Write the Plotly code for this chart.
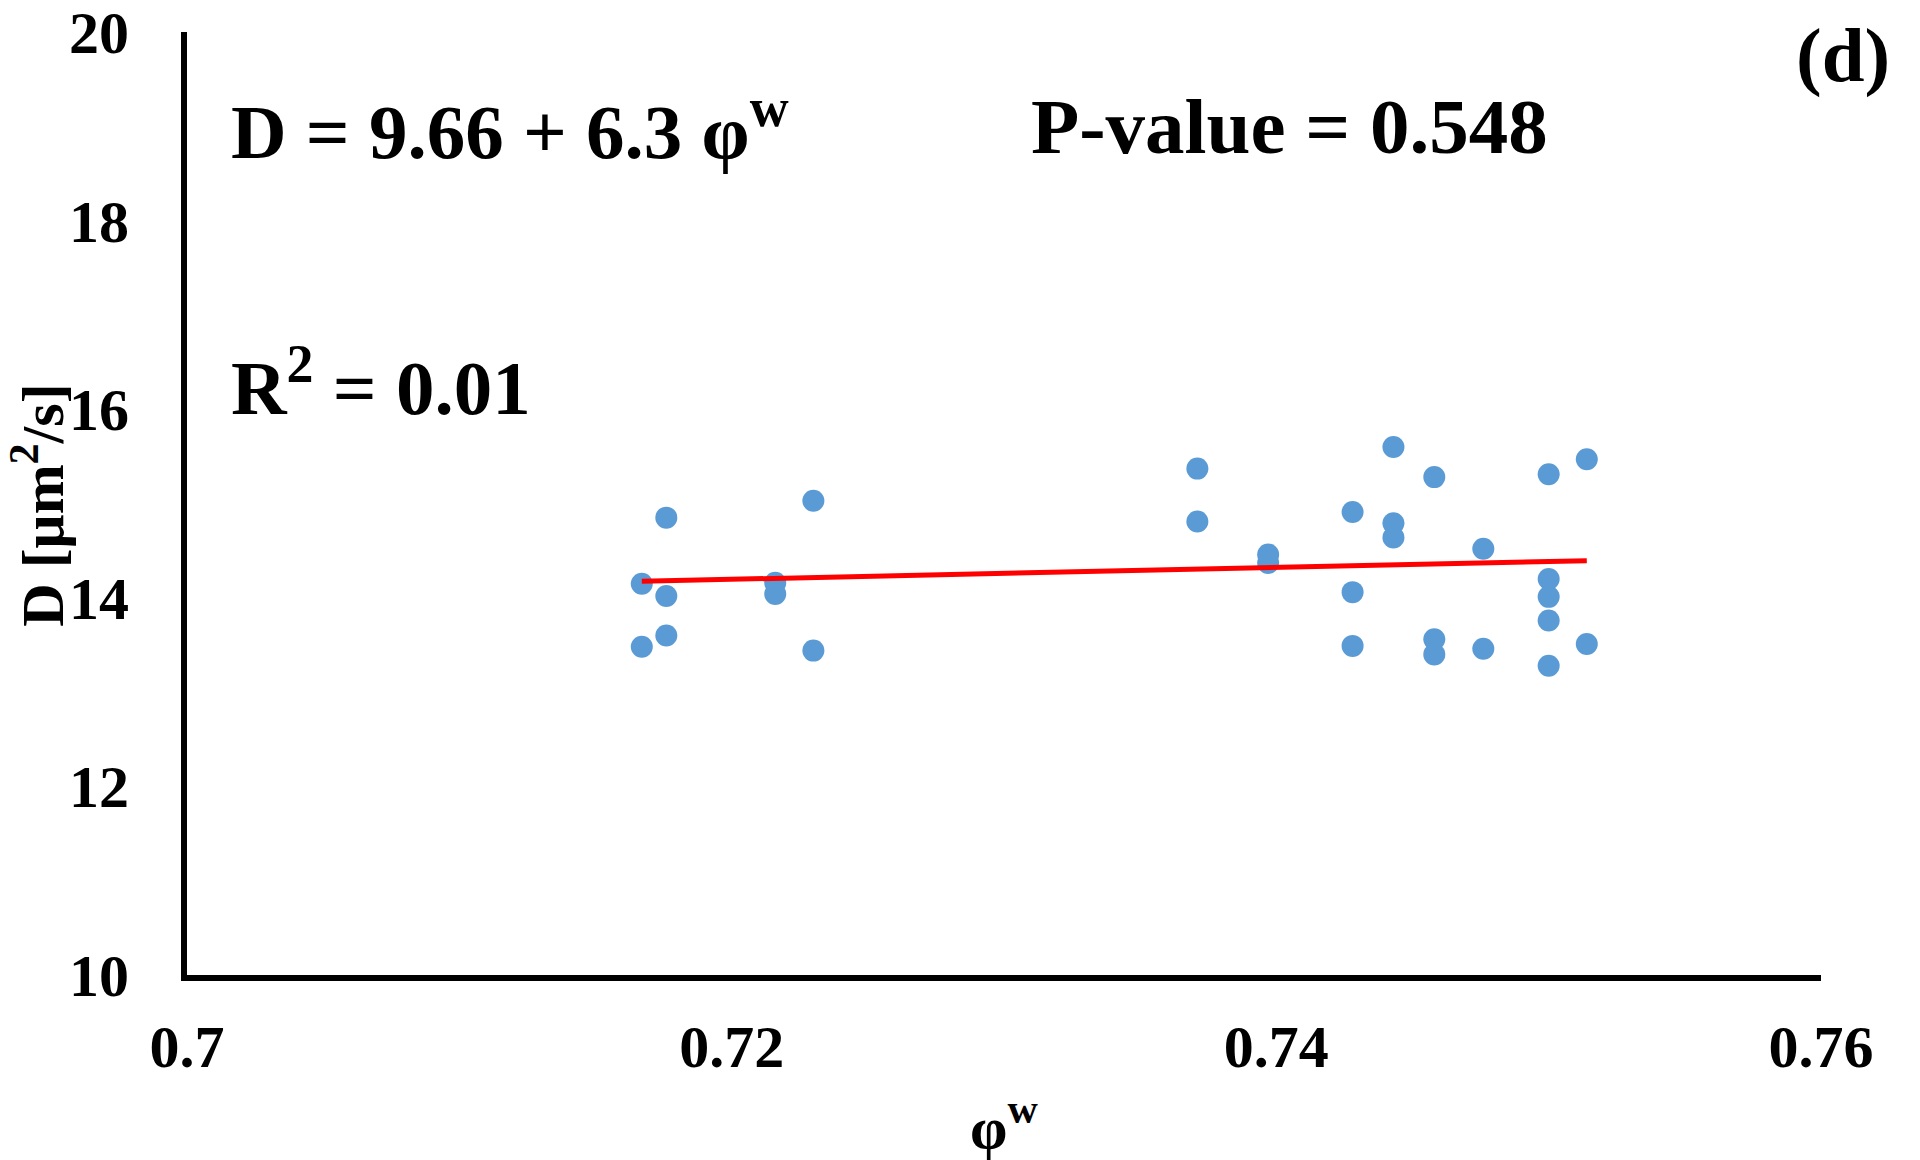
import numpy as np
import plotly.graph_objects as go

# Data
phi_w = [0.7167, 0.7167, 0.7176, 0.7176, 0.7176, 0.7216, 0.7216, 0.7230, 0.7230,
         0.7371, 0.7371, 0.7397, 0.7397,
         0.7428, 0.7428, 0.7428,
         0.7443, 0.7443, 0.7443,
         0.7458, 0.7458, 0.7458,
         0.7476, 0.7476,
         0.7500, 0.7500, 0.7500, 0.7500, 0.7500,
         0.7514, 0.7514]
D_vals = [14.15, 13.48, 14.85, 14.02, 13.60, 14.16, 14.04, 15.03, 13.44,
          15.37, 14.81, 14.46, 14.37,
          14.91, 14.06, 13.49,
          15.60, 14.79, 14.64,
          15.28, 13.56, 13.40,
          14.52, 13.46,
          15.31, 14.20, 14.01, 13.76, 13.28,
          15.47, 13.51]

fit_intercept = 9.66
fit_slope = 6.3

x_tickvals = [0.70, 0.72, 0.74, 0.76]
x_ticktext = ["0.7", "0.72", "0.74", "0.76"]
y_tickvals = [10, 12, 14, 16, 18, 20]
y_ticktext = ["10", "12", "14", "16", "18", "20"]

FONT = "Liberation Serif"

x_fit = np.array([min(phi_w), max(phi_w)])
y_fit = fit_intercept + fit_slope * x_fit

fig = go.Figure()
fig.add_trace(go.Scatter(
    x=phi_w, y=D_vals, mode="markers",
    marker=dict(color="#5B9BD5", size=22, line=dict(width=0)),
    showlegend=False,
))
fig.add_trace(go.Scatter(
    x=x_fit, y=y_fit, mode="lines",
    line=dict(color="#FF0000", width=5),
    showlegend=False,
))

tick_font = dict(family=FONT, size=60, color="black", weight="bold")

fig.update_layout(
    width=1920, height=1160,
    paper_bgcolor="white", plot_bgcolor="white",
    margin=dict(l=187, r=99, t=32, b=185, autoexpand=False),
    font=dict(family=FONT, color="black", size=60, weight="bold"),
    xaxis=dict(
        range=[0.70, 0.76], tickvals=x_tickvals, ticktext=x_ticktext,
        showgrid=False, zeroline=False, showline=True, linecolor="black", linewidth=6,
        ticks="", ticklabelstandoff=14, automargin=False,
        tickfont=tick_font,
    ),
    yaxis=dict(
        range=[10, 20], tickvals=y_tickvals, ticktext=y_ticktext,
        showgrid=False, zeroline=False, showline=True, linecolor="black", linewidth=6,
        ticks="", ticklabelstandoff=40, automargin=False,
        tickfont=tick_font,
    ),
)

# Axis titles
fig.add_annotation(text="φ<sup>w</sup>", xref="paper", yref="paper",
                   x=0.5, y=-0.158, xanchor="center", yanchor="middle", showarrow=False,
                   font=dict(family=FONT, size=60, color="black", weight="bold"))
fig.add_annotation(text="D [μm<sup>2</sup>/s]", xref="paper", yref="paper", textangle=-90,
                   x=-0.091, y=0.498, xanchor="center", yanchor="middle", showarrow=False,
                   font=dict(family=FONT, size=60, color="black", weight="bold"))

ann_font = dict(family=FONT, size=77, color="black", weight="bold")
fig.add_annotation(text="D = 9.66 + 6.3 φ<sup>w</sup>", xref="paper", yref="paper",
                   x=0.0257, y=0.900, xanchor="left", yanchor="middle", showarrow=False, font=ann_font)
fig.add_annotation(text="P-value = 0.548", xref="paper", yref="paper",
                   x=0.515, y=0.900, xanchor="left", yanchor="middle", showarrow=False,
                   font=dict(family=FONT, size=79, color="black", weight="bold"))
fig.add_annotation(text="R<sup>2</sup> = 0.01", xref="paper", yref="paper",
                   x=0.0257, y=0.628, xanchor="left", yanchor="middle", showarrow=False, font=ann_font)
fig.add_annotation(text="(d)", xref="paper", yref="paper",
                   x=1.0435, y=0.976, xanchor="right", yanchor="middle", showarrow=False, font=ann_font)

fig.write_html("out.html", config={"displayModeBar": False},
               post_script="document.body.style.margin='0';")
